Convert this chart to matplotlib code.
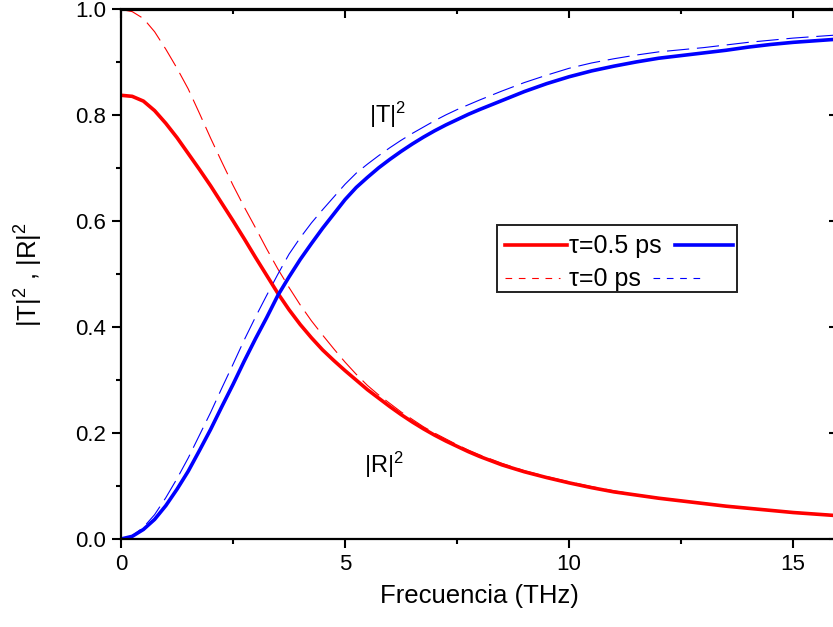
import matplotlib
matplotlib.use("Agg")
import matplotlib.pyplot as plt
from matplotlib.ticker import MultipleLocator
from matplotlib.patches import Rectangle
from matplotlib.lines import Line2D

plt.rcParams['font.family'] = ['Liberation Sans', 'DejaVu Sans']
plt.rcParams['mathtext.fontset'] = 'custom'
plt.rcParams['mathtext.rm'] = 'Liberation Sans'
plt.rcParams['mathtext.it'] = 'Liberation Sans'

# frequency grid (THz)
freq = [0.0, 0.25, 0.5, 0.75, 1.0, 1.25, 1.5, 1.75, 2.0, 2.25, 2.5, 2.75,
        3.0, 3.25, 3.5, 3.75, 4.0, 4.25, 4.5, 4.75, 5.0, 5.25, 5.5, 5.75,
        6.0, 6.25, 6.5, 6.75, 7.0, 7.25, 7.5, 7.75, 8.0, 8.5, 9.0, 9.5,
        10.0, 10.5, 11.0, 11.5, 12.0, 12.5, 13.0, 13.5, 14.0, 14.5, 15.0,
        15.5, 16.0]

# |R|^2, tau = 0.5 ps
r_tau05 = [0.838, 0.836, 0.827, 0.809, 0.785, 0.758, 0.728, 0.698, 0.667,
           0.634, 0.601, 0.567, 0.532, 0.498, 0.464, 0.433, 0.405, 0.380,
           0.357, 0.337, 0.318, 0.300, 0.282, 0.266, 0.250, 0.235, 0.221,
           0.208, 0.196, 0.185, 0.175, 0.165, 0.156, 0.140, 0.127, 0.116,
           0.106, 0.097, 0.089, 0.083, 0.077, 0.072, 0.067, 0.062, 0.058,
           0.054, 0.050, 0.047, 0.044]
# |R|^2, tau = 0
r_tau0 = [1.000, 0.996, 0.983, 0.958, 0.925, 0.889, 0.850, 0.804, 0.757,
          0.712, 0.668, 0.627, 0.588, 0.548, 0.510, 0.475, 0.442, 0.412,
          0.385, 0.359, 0.334, 0.311, 0.290, 0.272, 0.256, 0.240, 0.226,
          0.212, 0.200, 0.189, 0.178, 0.168, 0.159, 0.143, 0.129, 0.118,
          0.108, 0.099, 0.091, 0.084, 0.078, 0.073, 0.068, 0.063, 0.059,
          0.055, 0.051, 0.048, 0.045]
# |T|^2, tau = 0.5 ps
t_tau05 = [0.000, 0.005, 0.018, 0.037, 0.063, 0.094, 0.128, 0.167, 0.207,
           0.250, 0.292, 0.336, 0.378, 0.418, 0.460, 0.495, 0.528, 0.558,
           0.587, 0.614, 0.641, 0.664, 0.683, 0.701, 0.717, 0.732, 0.746,
           0.759, 0.771, 0.782, 0.792, 0.802, 0.811, 0.828, 0.845, 0.860,
           0.873, 0.884, 0.893, 0.901, 0.908, 0.913, 0.918, 0.923, 0.929,
           0.934, 0.938, 0.941, 0.944]
# |T|^2, tau = 0
t_tau0 = [0.000, 0.006, 0.022, 0.046, 0.078, 0.114, 0.153, 0.196, 0.239,
          0.285, 0.330, 0.376, 0.419, 0.460, 0.500, 0.538, 0.569, 0.597,
          0.622, 0.646, 0.670, 0.691, 0.708, 0.724, 0.739, 0.753, 0.766,
          0.778, 0.790, 0.801, 0.811, 0.820, 0.829, 0.846, 0.862, 0.876,
          0.889, 0.899, 0.907, 0.914, 0.920, 0.924, 0.928, 0.933, 0.938,
          0.942, 0.946, 0.949, 0.952]

RED = '#ff0000'
BLUE = '#0000ff'

fig = plt.figure(figsize=(8.33, 6.27), dpi=100)
ax = fig.add_axes([121 / 833, 88 / 627, 717 / 833, 529.5 / 627])

ax.plot(freq, r_tau0, color=RED, lw=0.8, dashes=(20, 7))
ax.plot(freq, t_tau0, color=BLUE, lw=0.8, dashes=(20, 7))
ax.plot(freq, r_tau05, color=RED, lw=2.6, solid_capstyle='round')
ax.plot(freq, t_tau05, color=BLUE, lw=2.6, solid_capstyle='round')

ax.set_xlim(0, 16)
ax.set_ylim(0, 1)
ax.xaxis.set_major_locator(MultipleLocator(5))
ax.xaxis.set_minor_locator(MultipleLocator(2.5))
ax.yaxis.set_major_locator(MultipleLocator(0.2))
ax.yaxis.set_minor_locator(MultipleLocator(0.1))
ax.yaxis.set_major_formatter(plt.FormatStrFormatter('%.1f'))

for sp in ax.spines.values():
    sp.set_linewidth(1.6)
ax.tick_params(which='major', direction='out', length=6.5, width=1.5,
               labelsize=16, pad=4)
ax.tick_params(which='minor', direction='out', length=3.6, width=1.5)

# inward ticks on top and right
ax.secondary_xaxis('top')
ax.secondary_yaxis('right')
for child in ax.child_axes:
    child.xaxis.set_major_locator(MultipleLocator(5))
    child.xaxis.set_minor_locator(MultipleLocator(2.5))
    child.yaxis.set_major_locator(MultipleLocator(0.2))
    child.yaxis.set_minor_locator(MultipleLocator(0.1))
    child.tick_params(which='major', direction='in', length=6.5, width=1.5)
    child.tick_params(which='minor', direction='in', length=3.6, width=1.5)
    child.tick_params(labeltop=False, labelright=False, labelbottom=False,
                      labelleft=False)
    for sp in child.spines.values():
        sp.set_linewidth(1.6)

ax.set_xlabel('Frecuencia (THz)', fontsize=18.5, labelpad=7)
ax.set_ylabel('|T|$^2$ , |R|$^2$', fontsize=18.5, labelpad=22)

ax.text(5.96, 0.80, '|T|$^2$', fontsize=17, ha='center', va='center')
ax.text(5.87, 0.14, '|R|$^2$', fontsize=17, ha='center', va='center')

# legend drawn by hand: line - label - line
tr = fig.transFigure
W, H = 833, 627


def fx(px):
    return px / W


def fy(py):
    return 1 - py / H


fig.patches.append(Rectangle((fx(497), fy(292)), fx(737) - fx(497),
                             fy(225) - fy(292), transform=tr, fill=True,
                             facecolor='white', edgecolor='#222222', lw=1.4,
                             zorder=5))
fig.lines.append(Line2D([fx(505), fx(567)], [fy(245), fy(245)], transform=tr,
                        color=RED, lw=2.6, zorder=6))
fig.lines.append(Line2D([fx(675), fx(733)], [fy(245), fy(245)], transform=tr,
                        color=BLUE, lw=2.6, zorder=6))
fig.lines.append(Line2D([fx(505), fx(560)], [fy(278), fy(278)], transform=tr,
                        color=RED, lw=0.8, dashes=(6, 6), zorder=6))
fig.lines.append(Line2D([fx(653), fx(705)], [fy(278), fy(278)], transform=tr,
                        color=BLUE, lw=0.8, dashes=(6, 6), zorder=6))
fig.text(fx(569), fy(246), 'τ=0.5 ps', fontsize=18, ha='left', va='center',
         zorder=7)
fig.text(fx(569), fy(279), 'τ=0 ps', fontsize=18, ha='left', va='center',
         zorder=7)

fig.savefig('out.png', dpi=100)
